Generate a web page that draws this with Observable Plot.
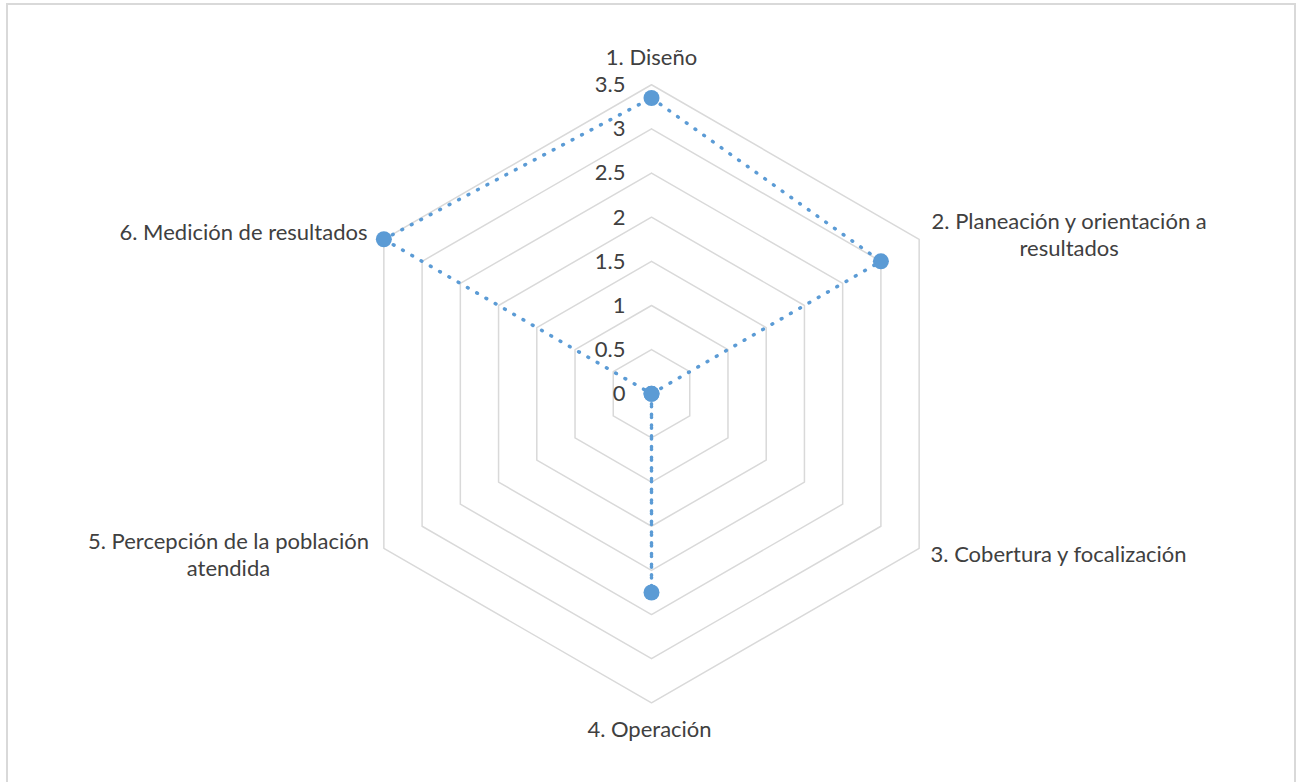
<!DOCTYPE html>
<html><head><meta charset="utf-8">
<script src="https://cdn.jsdelivr.net/npm/d3@7"></script>
<script src="https://cdn.jsdelivr.net/npm/@observablehq/plot@0.6"></script>
<style>
body{margin:0;background:#fff;}
#wrap{position:relative;width:1296px;height:782px;overflow:hidden;}
#border{position:absolute;left:6px;top:3px;width:1286px;height:800px;border:2px solid #d9d9d9;border-bottom:none;pointer-events:none;}
</style></head><body>
<div id="wrap"><div id="chart"></div><div id="border"></div></div>
<script>
// ---- data ----
const categories = [
  "1. Diseño",
  "2. Planeación y orientación a\nresultados",
  "3. Cobertura y focalización",
  "4. Operación",
  "5. Percepción de la población\natendida",
  "6. Medición de resultados"
];
const values = [3.35, 3.0, 0, 2.25, 0, 3.5];
const tickValues = [0, 0.5, 1, 1.5, 2, 2.5, 3, 3.5];
const tickLabels = ["0", "0.5", "1", "1.5", "2", "2.5", "3", "3.5"];
const maxValue = 3.5;

// ---- layout / style ----
const W = 1296, H = 782;
const cx = 651, cy = 393.3, pxPerUnit = 88.3;
const labelStyle = [
  {anchor: "middle", dx: 0, dy: -28.6},
  {anchor: "middle", dx: 150, dy: -5.6},
  {anchor: "start", dx: 11.4, dy: 5.2},
  {anchor: "middle", dx: -2, dy: 25.7},
  {anchor: "middle", dx: -155.4, dy: 5.4},
  {anchor: "end", dx: -16.4, dy: -8.1}
];
const blue = "#5b9bd5", grid = "#d9d9d9", ink = "#404040";
const font = "Lato, 'Open Sans', sans-serif";
const fs = 22;

const n = categories.length;
const ang = i => (i % n) * 2 * Math.PI / n;
const px = (v, i) => v * Math.sin(ang(i));
const py = (v, i) => v * Math.cos(ang(i));

// grid rings
const rings = [];
tickValues.filter(t => t > 0).forEach(t => {
  for (let i = 0; i <= n; i++) rings.push({level: t, x: px(t, i), y: py(t, i)});
});
// series
const pts = values.map((v, i) => ({cat: categories[i], v, x: px(v, i), y: py(v, i)}));
const loop = [...pts, pts[0]];
// category labels at outer vertex
const labs = categories.map((c, i) => ({c, i, x: px(maxValue, i), y: py(maxValue, i)}));
const ticksData = tickValues.map((t, k) => ({t, label: tickLabels[k]}));

const chart = Plot.plot({
  width: W, height: H,
  margin: 0,
  style: {fontFamily: font, background: "transparent"},
  x: {type: "linear", domain: [-cx / pxPerUnit, (W - cx) / pxPerUnit], range: [0, W], axis: null},
  y: {type: "linear", domain: [-(H - cy) / pxPerUnit, cy / pxPerUnit], range: [H, 0], axis: null},
  marks: [
    Plot.line(rings, {x: "x", y: "y", z: "level", stroke: grid, strokeWidth: 1.5}),
    Plot.line(loop, {x: "x", y: "y", stroke: blue, strokeWidth: 3.5, strokeDasharray: "0.8 9.9", strokeLinecap: "round"}),
    Plot.dot(pts, {x: "x", y: "y", r: 8, fill: blue, stroke: null}),
    Plot.text(ticksData, {x: () => 0, y: "t", text: "label", textAnchor: "end", dx: -26, dy: 0.4, fontSize: fs, fill: ink}),
    ...labs.map(l => Plot.text([l], {
      x: "x", y: "y", text: "c",
      textAnchor: labelStyle[l.i].anchor, dx: labelStyle[l.i].dx, dy: labelStyle[l.i].dy,
      lineHeight: 27 / fs, fontSize: fs, fill: ink
    }))
  ]
});
document.getElementById("chart").appendChild(chart);
</script>
</body></html>
